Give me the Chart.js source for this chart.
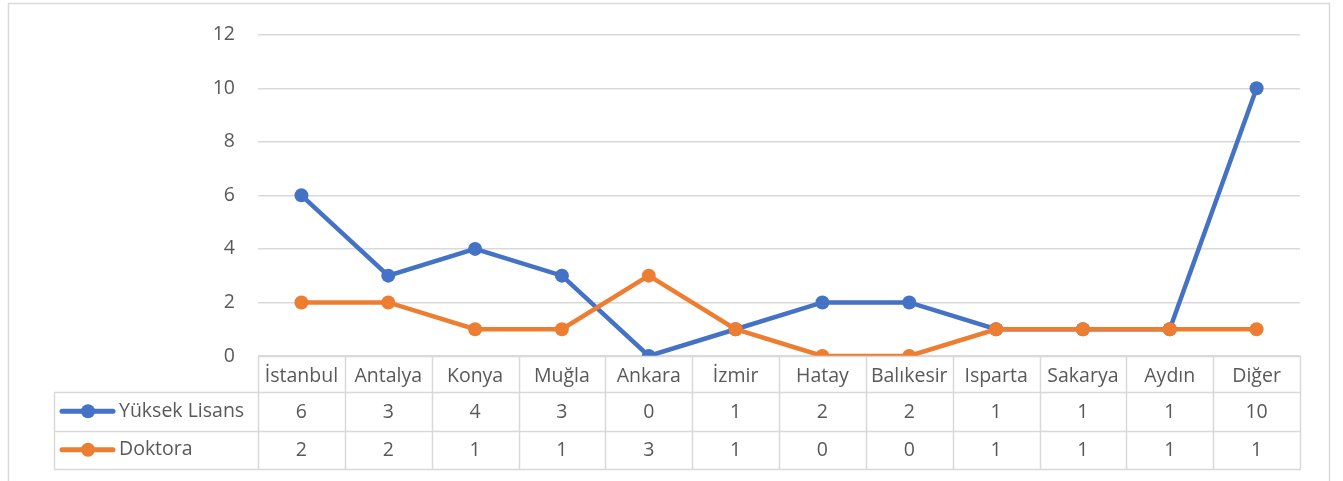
<!DOCTYPE html>
<html>
<head>
<meta charset="utf-8">
<script src="https://cdn.jsdelivr.net/npm/chart.js@4/dist/chart.umd.min.js"></script>
<style>
  html, body { margin: 0; padding: 0; background: #fff; }
  canvas { display: block; }
</style>
</head>
<body>
<canvas id="lineChart" width="1343" height="481"></canvas>
<script>
const cities = ['İstanbul', 'Antalya', 'Konya', 'Muğla', 'Ankara', 'İzmir', 'Hatay', 'Balıkesir', 'Isparta', 'Sakarya', 'Aydın', 'Diğer'];
const yuksekLisans = [6, 3, 4, 3, 0, 1, 2, 2, 1, 1, 1, 10];
const doktora = [2, 2, 1, 1, 3, 1, 0, 0, 1, 1, 1, 1];
const seriesNames = ['Yüksek Lisans', 'Doktora'];
const seriesColors = ['#4472C4', '#ED7D31'];

const FONT_FAMILY = '"Open Sans", Lato, sans-serif';
const FONT_SIZE = 19.5;
const FONT = FONT_SIZE + 'px ' + FONT_FAMILY;
const TEXT_COLOR = '#595959';
const LINE_COLOR = '#d9d9d9';

// data table under the plot, like Excel's "data table with legend keys"
const dataTablePlugin = {
    id: 'dataTable',
    beforeDraw(chart) {
        const ctx = chart.ctx;
        ctx.save();
        ctx.strokeStyle = LINE_COLOR;
        ctx.lineWidth = 1.5;
        ctx.beginPath();
        ctx.moveTo(8.5, 500);
        ctx.lineTo(8.5, 3.5);
        ctx.lineTo(1329.5, 3.5);
        ctx.lineTo(1329.5, 500);
        ctx.stroke();
        ctx.restore();
    },
    afterDraw(chart) {
        const ctx = chart.ctx;
        const xs = chart.scales.x;
        const area = chart.chartArea;
        const colW = (area.right - area.left) / cities.length;
        const top = area.bottom;
        const headerBottom = top + 36;
        const rowH = 38.5;
        const tableLeft = 54;
        const bottom = headerBottom + rowH * 2;
        const rows = [yuksekLisans, doktora];

        ctx.save();
        ctx.strokeStyle = LINE_COLOR;
        ctx.lineWidth = 1.5;
        ctx.beginPath();
        for (let i = 0; i <= cities.length; i++) {
            const x = Math.round(area.left + i * colW) + 0.5;
            ctx.moveTo(x, top);
            ctx.lineTo(x, bottom);
        }
        ctx.moveTo(tableLeft + 0.5, headerBottom);
        ctx.lineTo(tableLeft + 0.5, bottom);
        for (let r = 0; r <= 2; r++) {
            const y = Math.round(headerBottom + r * rowH) + 0.5;
            ctx.moveTo(tableLeft, y);
            ctx.lineTo(area.right + 1, y);
        }
        ctx.moveTo(area.left, top + 0.5);
        ctx.lineTo(area.right + 1, top + 0.5);
        ctx.stroke();

        ctx.font = FONT;
        ctx.fillStyle = TEXT_COLOR;
        ctx.textAlign = 'center';
        ctx.textBaseline = 'middle';
        cities.forEach((c, i) => {
            ctx.fillText(c, xs.getPixelForValue(i), top + 20);
        });

        rows.forEach((vals, r) => {
            const cy = headerBottom + r * rowH + rowH / 2;
            ctx.fillStyle = TEXT_COLOR;
            ctx.textAlign = 'center';
            vals.forEach((v, i) => {
                ctx.fillText(String(v), xs.getPixelForValue(i), cy + 1);
            });
            // legend key
            ctx.strokeStyle = seriesColors[r];
            ctx.lineWidth = 5;
            ctx.lineCap = 'round';
            ctx.beginPath();
            ctx.moveTo(62, cy);
            ctx.lineTo(113, cy);
            ctx.stroke();
            ctx.fillStyle = seriesColors[r];
            ctx.beginPath();
            ctx.arc(88, cy, 7, 0, Math.PI * 2);
            ctx.fill();
            ctx.fillStyle = TEXT_COLOR;
            ctx.textAlign = 'left';
            ctx.fillText(seriesNames[r], 119, cy);
        });
        ctx.restore();
    }
};

new Chart(document.getElementById('lineChart'), {
    type: 'line',
    data: {
        labels: cities,
        datasets: [{
            label: seriesNames[0],
            data: yuksekLisans,
            borderColor: seriesColors[0],
            backgroundColor: seriesColors[0],
            borderWidth: 4.5,
            pointRadius: 7,
            pointBorderWidth: 0,
            tension: 0,
            order: 1
        }, {
            label: seriesNames[1],
            data: doktora,
            borderColor: seriesColors[1],
            backgroundColor: seriesColors[1],
            borderWidth: 4.5,
            pointRadius: 7,
            pointBorderWidth: 0,
            tension: 0,
            order: 0
        }]
    },
    options: {
        responsive: false,
        animation: false,
        layout: { padding: { left: 0, right: 43, top: 32, bottom: 125 } },
        plugins: {
            legend: { display: false },
            tooltip: { enabled: false }
        },
        scales: {
            x: {
                type: 'category',
                offset: true,
                display: false
            },
            y: {
                min: 0,
                max: 12,
                ticks: {
                    stepSize: 2,
                    padding: 23,
                    color: TEXT_COLOR,
                    font: { family: FONT_FAMILY, size: FONT_SIZE }
                },
                grid: { color: LINE_COLOR, lineWidth: 1.5, drawTicks: false },
                border: { display: false },
                afterFit(scale) { scale.width = 258; }
            }
        }
    },
    plugins: [dataTablePlugin]
});
</script>
</body>
</html>
